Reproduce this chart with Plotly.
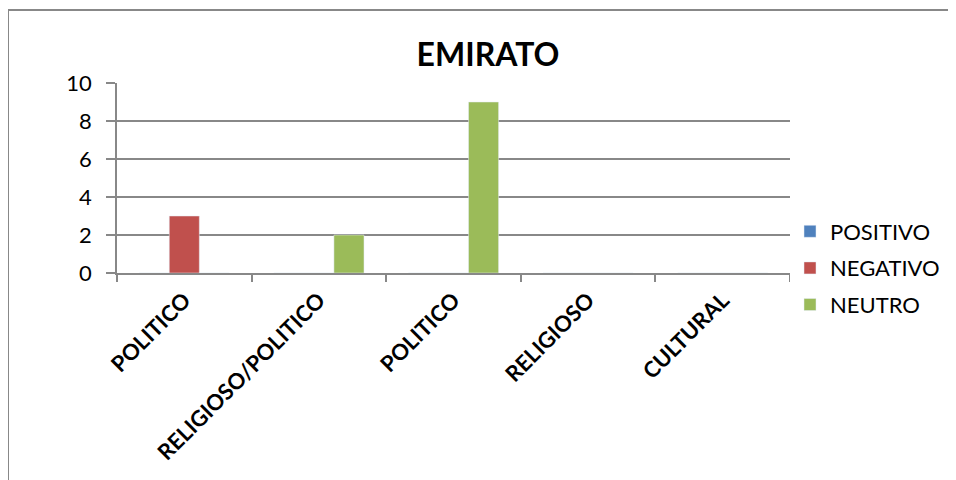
import plotly.graph_objects as go

categories = ["POLITICO", "RELIGIOSO/POLITICO", "POLITICO", "RELIGIOSO", "CULTURAL"]
positivo = [0, 0, 0, 0, 0]
negativo = [3, 0, 0, 0, 0]
neutro = [0, 2, 9, 0, 0]
y_ticks = [0, 2, 4, 6, 8, 10]

x = list(range(len(categories)))
W, H = 956, 480
OFF = 8  # page body offset
L, R, T, B = 117 - OFF, 790 - OFF, 83 - OFF, 273 - OFF

fig = go.Figure()
fig.add_trace(go.Bar(name="POSITIVO", x=x, y=positivo, marker_color="#4F81BD", legendgroup="p"))
fig.add_trace(go.Bar(name="NEGATIVO", x=x, y=negativo, marker_color="#C0504D", legendgroup="n"))
fig.add_trace(go.Bar(name="NEUTRO", x=x, y=neutro, marker_color="#9BBB59", legendgroup="u"))

def px_to_paper(px, py):
    return (px - OFF - L) / (R - L), (B - (py - OFF)) / (B - T)

x0, y0 = px_to_paper(8, 10)
x1, y1 = px_to_paper(990, 520)

font = "Lato, 'Open Sans', sans-serif"
fig.update_layout(
    width=W, height=H,
    margin=dict(l=L, r=W - R, t=T, b=H - B),
    paper_bgcolor="white", plot_bgcolor="white",
    barmode="group", bargap=0.33, bargroupgap=0,
    title=dict(text="<b>EMIRATO</b>", x=(488 - OFF) / W, xanchor="center",
               y=1 - (55 - OFF) / H, yanchor="middle",
               font=dict(family=font, size=32, color="black")),
    font=dict(family=font, color="black"),
    xaxis=dict(
        range=[-0.5, len(categories) - 0.5],
        tickmode="array", tickvals=x, ticktext=categories,
        tickangle=-45, ticks="", showgrid=False, zeroline=False,
        showline=True, linecolor="#888888", linewidth=1.5,
        ticklabelstandoff=4,
        tickfont=dict(family=font, size=22, color="black", weight="bold"),
        minor=dict(tickmode="array",
                   tickvals=[i - 0.5 for i in range(len(categories) + 1)],
                   ticks="outside", ticklen=7, tickcolor="#888888", tickwidth=1.5,
                   showgrid=False),
    ),
    yaxis=dict(
        range=[0, 10], tickmode="array", tickvals=y_ticks,
        ticks="outside", ticklen=9, tickcolor="#888888", tickwidth=1.5,
        showgrid=True, gridcolor="#888888", gridwidth=1.5,
        showline=True, linecolor="#888888", linewidth=1.5,
        zeroline=False, ticklabelstandoff=10,
        tickfont=dict(family=font, size=22, color="black"),
    ),
    legend=dict(x=(790 - OFF - L) / (R - L), xanchor="left",
                y=(B - (268 - OFF)) / (B - T), yanchor="middle",
                traceorder="grouped", tracegroupgap=5,
                font=dict(family=font, size=22, color="black"),
                itemwidth=30),
    shapes=[dict(type="rect", xref="paper", yref="paper",
                 x0=x0, y0=y0, x1=x1, y1=y1,
                 line=dict(color="#888888", width=2), layer="below")],
    showlegend=True,
)

fig.write_html("out.html")
